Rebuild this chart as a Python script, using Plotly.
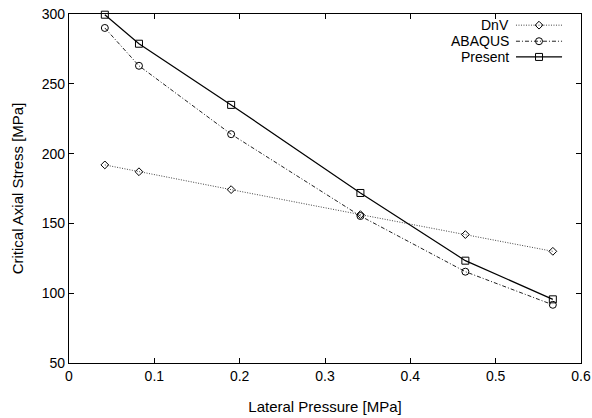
import plotly.graph_objects as go

# Data
pressure = [0.042, 0.082, 0.190, 0.3415, 0.4645, 0.567]
dnv = [191.9, 187.0, 174.2, 156.3, 142.0, 130.0]
abaqus = [290.0, 262.9, 213.9, 155.3, 115.4, 91.7]
present = [299.5, 278.7, 234.9, 171.8, 123.3, 95.6]

series_names = ["DnV", "ABAQUS", "Present"]
series_values = [dnv, abaqus, present]
symbols = ["diamond-open", "circle-open", "square-open"]
dashes = ["1px,1.5px", "4px,2px,1px,2px", "solid"]
colors = ["#444444", "#222222", "black"]
sizes = [6, 7, 7]
line_widths = [1, 1, 1.2]

x_ticks = [0, 0.1, 0.2, 0.3, 0.4, 0.5, 0.6]
x_tick_labels = ["0", "0.1", "0.2", "0.3", "0.4", "0.5", "0.6"]
y_ticks = [50, 100, 150, 200, 250, 300]

FONT = "Liberation Sans, Arial, sans-serif"

fig = go.Figure()
for name, vals, sym, dash, col, sz, lw in zip(series_names, series_values, symbols, dashes, colors, sizes, line_widths):
    fig.add_trace(go.Scatter(
        x=pressure, y=vals, name=name, mode="lines+markers",
        line=dict(color=col, width=lw, dash=dash),
        marker=dict(symbol=sym, size=sz, color="black", line=dict(width=1, color="black")),
        showlegend=False, cliponaxis=False,
    ))

# Custom legend (key drawn to the right of the label, as in the reference)
leg_rows = [0.968, 0.922, 0.877]
leg_text_x = 0.863
leg_line_x0, leg_line_x1, leg_mark_x = 0.873, 0.963, 0.918
for name, sym, dash, col, sz, lw, yy in zip(series_names, symbols, dashes, colors, sizes, line_widths, leg_rows):
    fig.add_annotation(x=leg_text_x, y=yy, xref="paper", yref="paper", text=name,
                       showarrow=False, xanchor="right", yanchor="middle",
                       font=dict(family=FONT, size=14, color="black"))
    fig.add_shape(type="line", xref="paper", yref="paper", x0=leg_line_x0, x1=leg_line_x1,
                  y0=yy, y1=yy, line=dict(color=col, width=lw, dash=dash))
    fig.add_trace(go.Scatter(
        x=[leg_mark_x], y=[yy], xaxis="x2", yaxis="y2", mode="markers",
        marker=dict(symbol=sym, size=sz, color="black", line=dict(width=1, color="black")),
        showlegend=False, hoverinfo="skip",
    ))

axis_common = dict(
    showgrid=False, zeroline=False, showline=True, linecolor="black", linewidth=1.3,
    mirror="ticks", ticks="inside", ticklen=5, tickcolor="black", tickwidth=1,
    tickfont=dict(family=FONT, size=14, color="black"), automargin=False,
)

fig.update_layout(
    width=592, height=418,
    margin=dict(l=69, r=11, t=14, b=55),
    paper_bgcolor="white", plot_bgcolor="white",
    font=dict(family=FONT, size=14, color="black"),
    xaxis=dict(range=[0, 0.6], tickvals=x_ticks, ticktext=x_tick_labels,
               title=dict(text="Lateral Pressure [MPa]", standoff=18,
                          font=dict(family=FONT, size=15)),
               **axis_common),
    yaxis=dict(range=[50, 300], tickvals=y_ticks,
               title=dict(text="Critical Axial Stress [MPa]", standoff=14,
                          font=dict(family=FONT, size=15)),
               **axis_common),
    xaxis2=dict(range=[0, 1], overlaying="x", visible=False, fixedrange=True),
    yaxis2=dict(range=[0, 1], overlaying="y", visible=False, fixedrange=True),
    showlegend=False,
)

fig.write_html("out.html", config={"displayModeBar": False},
               post_script="document.body.style.margin='0';")
